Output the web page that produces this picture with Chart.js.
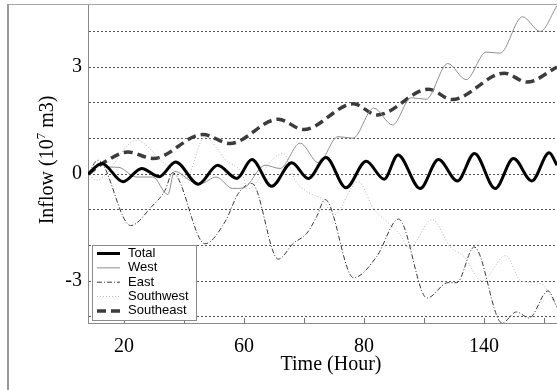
<!DOCTYPE html>
<html>
<head>
<meta charset="utf-8">
<script src="https://cdn.jsdelivr.net/npm/chart.js@4.4.1/dist/chart.umd.min.js"></script>
<style>
  html, body { margin: 0; padding: 0; background: #fff; overflow: hidden; }
  #wrap { position: relative; width: 557px; height: 390px; }
  #frame { position: absolute; left: 7px; top: 4px; width: 620px; height: 420px;
           border-left: 2px solid #9a9a9a; border-top: 1px solid #a8a8a8; }
  canvas { position: absolute; left: 0; top: 0; }
</style>
</head>
<body>
<div id="wrap">
  <div id="frame"></div>
  <canvas id="chart" width="557" height="390"></canvas>
</div>
<script>
// --- data (hours, 10^7 m3) ---
const totalHours  = [8, 12.6, 19.7, 25.9, 31.7, 37.2, 44.8, 51.2, 57.6, 62.6, 69.2, 75.9, 81.4, 87.3, 94, 100.7, 106.7, 111.3, 118.7, 124.8, 131.1, 136.8, 143.7, 149.8, 155.9, 161.7, 164.3];
const totalValues = [0, 0.3, -0.21, 0.16, -0.07, 0.34, -0.28, 0.25, -0.12, 0.41, -0.34, 0.32, -0.12, 0.47, -0.38, 0.36, -0.14, 0.54, -0.4, 0.41, -0.19, 0.58, -0.4, 0.44, -0.19, 0.6, 0.25];

const westHours  = [8, 12, 15.3, 18.3, 24, 29.6, 34.6, 36.8, 42.9, 45.7, 50.7, 56.2, 59.7, 67, 72, 78.7, 84.8, 91.3, 96.3, 103.2, 109.5, 115.7, 120.7, 127.9, 134, 140.7, 145.3, 152.8, 158.7, 164.3];
const westValues = [0.05, 0.3, 0.2, 0.19, -0.08, -0.08, -0.57, 0.08, -0.22, -0.26, -0.08, -0.4, -0.39, 0.25, 0.16, 0.87, 0.32, 1.05, 1.01, 1.85, 1.38, 2.14, 2.1, 3.1, 2.65, 3.42, 3.39, 4.41, 4.0, 4.72];

const eastHours  = [8, 11.3, 22.2, 29.2, 33.7, 36.2, 47, 53.7, 58.1, 62.6, 71.4, 76.4, 80.9, 84.2, 87, 96.5, 104.2, 111.5, 121, 128, 130.9, 136.7, 146, 150.8, 155, 161.3, 164.3];
const eastValues = [0, 0.39, -1.44, -0.91, -0.45, 0.04, -1.95, -1.33, -0.54, -0.26, -2.38, -1.94, -1.66, -1.19, -0.71, -2.9, -2.31, -1.26, -3.47, -3.04, -3.04, -2.04, -4.17, -3.86, -4.03, -3.27, -3.73];

const swHours  = [8, 10.7, 24.2, 32.9, 37.3, 40.7, 46.8, 54, 59.6, 61, 69.8, 73.1, 77, 80.9, 86.4, 89.8, 98.1, 103.1, 107.6, 112, 115, 122.7, 128.7, 133.3, 139.3, 147.2, 152.3, 159, 164.3];
const swValues = [0.05, -0.17, 0.95, 0.34, 0.06, -0.12, 1.04, 0.39, -0.03, -0.42, 0.44, 0.58, -0.17, -0.49, -0.73, -1.15, -0.21, -0.96, -1.33, -1.7, -2.07, -1.27, -2.04, -2.31, -2.99, -2.28, -2.99, -3.07, -3.71];

const seHours  = [8, 13, 21.3, 29.7, 46.3, 55.3, 71.4, 79.8, 96.5, 104.3, 121.5, 129.3, 146.7, 154.3, 164.3];
const seValues = [0, 0.31, 0.62, 0.44, 1.11, 0.86, 1.54, 1.25, 1.97, 1.66, 2.38, 2.09, 2.83, 2.58, 3.0];

const seriesNames = ['Total', 'West', 'East', 'Southwest', 'Southeast'];

const xTickValues = [20, 40, 60, 80, 100, 120, 140, 160];
const xTickLabels = ['20', '', '60', '', '80', '', '140', ''];
const yTickValues = [-4, -3, -2, -1, 0, 1, 2, 3, 4];
const yTickLabels = ['', '-3', '', '', '0', '', '', '3', ''];

const xTitle = 'Time (Hour)';
const yTitleParts = ['Inflow (10', '7', ' m3)'];

const SERIF = "'Liberation Serif', 'Times New Roman', serif";
const SANS = "'Liberation Sans', Arial, sans-serif";

function pts(hs, vs) {
  return hs.map((h, i) => ({ x: h, y: vs[i] }));
}

const STYLES = [
  { color: '#000000', width: 3,   dash: [] },
  { color: '#8f8f8f', width: 1,   dash: [] },
  { color: '#3a3a3a', width: 1,   dash: [5, 2, 1, 2] },
  { color: '#b4b4b4', width: 1,   dash: [1, 2] },
  { color: '#3c3c3c', width: 3.5, dash: [9, 5] },
];

const seriesData = [
  pts(totalHours, totalValues),
  pts(westHours, westValues),
  pts(eastHours, eastValues),
  pts(swHours, swValues),
  pts(seHours, seValues),
];

// extras drawn on the canvas: inner x ticks, axis titles, boxed legend
const decorPlugin = {
  id: 'decor',
  afterDraw(chart) {
    const ctx = chart.ctx;
    const xs = chart.scales.x;
    const area = chart.chartArea;
    ctx.save();

    // tick marks pointing into the plot
    ctx.strokeStyle = '#777';
    ctx.lineWidth = 1;
    xs.ticks.forEach(t => {
      const px = Math.round(xs.getPixelForValue(t.value)) + 0.5;
      ctx.beginPath();
      ctx.moveTo(px, area.bottom);
      ctx.lineTo(px, area.bottom - 5);
      ctx.stroke();
    });

    // x title
    ctx.fillStyle = '#000';
    ctx.font = '20px ' + SERIF;
    ctx.textAlign = 'center';
    ctx.textBaseline = 'alphabetic';
    ctx.fillText(xTitle, 331, 370);

    // y title with superscript
    ctx.save();
    ctx.translate(53, 160);
    ctx.rotate(-Math.PI / 2);
    ctx.textAlign = 'left';
    const fonts = ['20px ' + SERIF, '13px ' + SERIF, '20px ' + SERIF];
    const rise = [0, -8, 0];
    let total = 0;
    const widths = yTitleParts.map((p, i) => {
      ctx.font = fonts[i];
      const w = ctx.measureText(p).width;
      total += w;
      return w;
    });
    let cx = -total / 2;
    yTitleParts.forEach((p, i) => {
      ctx.font = fonts[i];
      ctx.fillText(p, cx, rise[i]);
      cx += widths[i];
    });
    ctx.restore();

    // legend box
    const lx = 92, ly = 245, lw = 104, lh = 75;
    ctx.fillStyle = '#fff';
    ctx.fillRect(lx, ly, lw, lh);
    ctx.strokeStyle = '#8a8a8a';
    ctx.lineWidth = 1;
    ctx.strokeRect(lx + 0.5, ly + 0.5, lw, lh);
    ctx.font = '13px ' + SANS;
    ctx.textAlign = 'left';
    ctx.textBaseline = 'middle';
    chart.data.datasets.forEach((ds, i) => {
      const y = ly + 8.5 + i * 14.35;
      const st = STYLES[i];
      ctx.save();
      ctx.strokeStyle = st.color;
      ctx.lineWidth = st.width;
      ctx.setLineDash(st.dash);
      ctx.beginPath();
      ctx.moveTo(lx + 5, y);
      ctx.lineTo(lx + 28, y);
      ctx.stroke();
      ctx.restore();
      ctx.fillStyle = '#000';
      ctx.fillText(ds.label, lx + 36, y);
    });

    ctx.restore();
  }
};

new Chart(document.getElementById('chart'), {
  type: 'line',
  data: {
    datasets: seriesNames.map((name, i) => ({
      label: name,
      data: seriesData[i],
      borderColor: STYLES[i].color,
      borderWidth: STYLES[i].width,
      borderDash: STYLES[i].dash,
      pointRadius: 0,
      fill: false,
      cubicInterpolationMode: 'monotone',
    })),
  },
  options: {
    responsive: false,
    animation: false,
    devicePixelRatio: 1,
    layout: { autoPadding: false, padding: { left: 0, right: 0, top: 5, bottom: 0 } },
    plugins: {
      legend: { display: false },
      tooltip: { enabled: false },
    },
    scales: {
      x: {
        type: 'linear',
        min: 8,
        max: 164.3,
        afterBuildTicks: s => { s.ticks = xTickValues.map(v => ({ value: v })); },
        afterFit: s => { s.height = 67; s.paddingLeft = 0; s.paddingRight = 0; },
        grid: { display: false },
        border: { display: true, color: '#8a8a8a', width: 1 },
        ticks: {
          autoSkip: false,
          maxRotation: 0,
          padding: 4,
          color: '#000',
          font: { family: SERIF, size: 20 },
          callback: (v, i) => xTickLabels[i],
        },
      },
      y: {
        min: -4.17,
        max: 4.74,
        afterBuildTicks: s => { s.ticks = yTickValues.map(v => ({ value: v })); },
        afterFit: s => { s.width = 88; s.paddingTop = 0; s.paddingBottom = 0; },
        grid: { color: '#555', lineWidth: 1, drawTicks: false },
        border: { display: true, color: '#8a8a8a', width: 1, dash: [2, 2] },
        ticks: {
          padding: 6,
          color: '#000',
          font: { family: SERIF, size: 20 },
          callback: (v, i) => yTickLabels[i],
        },
      },
    },
  },
  plugins: [decorPlugin],
});
</script>
</body>
</html>
